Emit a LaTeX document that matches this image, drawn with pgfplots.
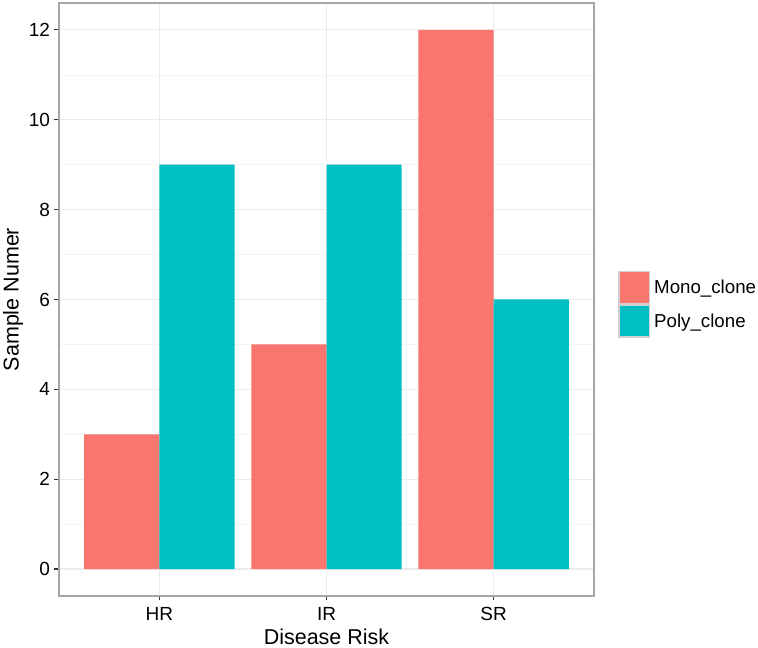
\documentclass[border=0pt]{standalone}
\usepackage{fontspec}
\setmainfont{Liberation Sans}
\usepackage{pgfplots}
\pgfplotsset{compat=1.18}
\definecolor{mono}{HTML}{F8766D}
\definecolor{poly}{HTML}{00BFC4}
\definecolor{gridmaj}{HTML}{EBEBEB}
\definecolor{gridmin}{HTML}{F4F4F4}
\definecolor{frame}{HTML}{A6A6A6}
\definecolor{tickc}{HTML}{333333}
\definecolor{keyb}{HTML}{D0D0D0}
\begin{document}
\begin{tikzpicture}
\begin{axis}[
  scale only axis,
  width=535bp, height=593bp,
  xmin=0.4, xmax=3.6,
  ymin=-0.6, ymax=12.6,
  xtick={1,2,3},
  xticklabels={HR,IR,SR},
  ytick={0,2,4,6,8,10,12},
  minor ytick={1,3,5,7,9,11},
  xtick pos=bottom, ytick pos=left,
  /pgf/number format/assume math mode=true,
  tick align=outside,
  major tick length=4.5bp,
  minor tick length=0pt,
  tick style={tickc, line width=1.1bp},
  axis line style={frame, line width=1.1bp},
  ymajorgrids, xmajorgrids, yminorgrids,
  major grid style={gridmaj, line width=1.1bp},
  minor grid style={gridmin, line width=0.6bp},
  ticklabel style={font=\fontsize{19bp}{22bp}\selectfont, text=black},
  yticklabel style={xshift=-1bp},
  xticklabel style={yshift=-3bp},
  xlabel={Disease Risk},
  ylabel={Sample Numer},
  label style={font=\fontsize{21.5bp}{25bp}\selectfont},
  xlabel style={yshift=-2bp},
  ylabel style={yshift=-1bp},
  legend style={
    at={(1,0.492)}, anchor=west, xshift=24bp,
    draw=none, fill=none, inner sep=0pt,
    row sep=0pt, column sep=4bp,
    font=\fontsize{18.7bp}{22bp}\selectfont,
    nodes={inner sep=0pt, anchor=west},
  },
  legend cell align=left,
]
\addplot[ybar, bar width=0.45, bar shift=0pt, fill=mono, draw=none,
  legend image code/.code={%
    \fill[mono] (0bp,-16.75bp) rectangle (32bp,16.75bp);
    \draw[keyb, fill=none, line width=1.6bp] (0.8bp,-15.95bp) rectangle (31.2bp,15.95bp);
  }]
  coordinates {(0.775,3) (1.775,5) (2.775,12)};
\addlegendentry{Mono\_clone}
\addplot[ybar, bar width=0.45, bar shift=0pt, fill=poly, draw=none,
  legend image code/.code={%
    \fill[poly] (0bp,-16.75bp) rectangle (32bp,16.75bp);
    \draw[keyb, fill=none, line width=1.6bp] (0.8bp,-15.95bp) rectangle (31.2bp,15.95bp);
  }]
  coordinates {(1.225,9) (2.225,9) (3.225,6)};
\addlegendentry{Poly\_clone}
\end{axis}
\pgfresetboundingbox
\path[use as bounding box] (current axis.south west) ++(-59bp,-52bp) rectangle ++(758bp,648bp);
\end{tikzpicture}
\end{document}
